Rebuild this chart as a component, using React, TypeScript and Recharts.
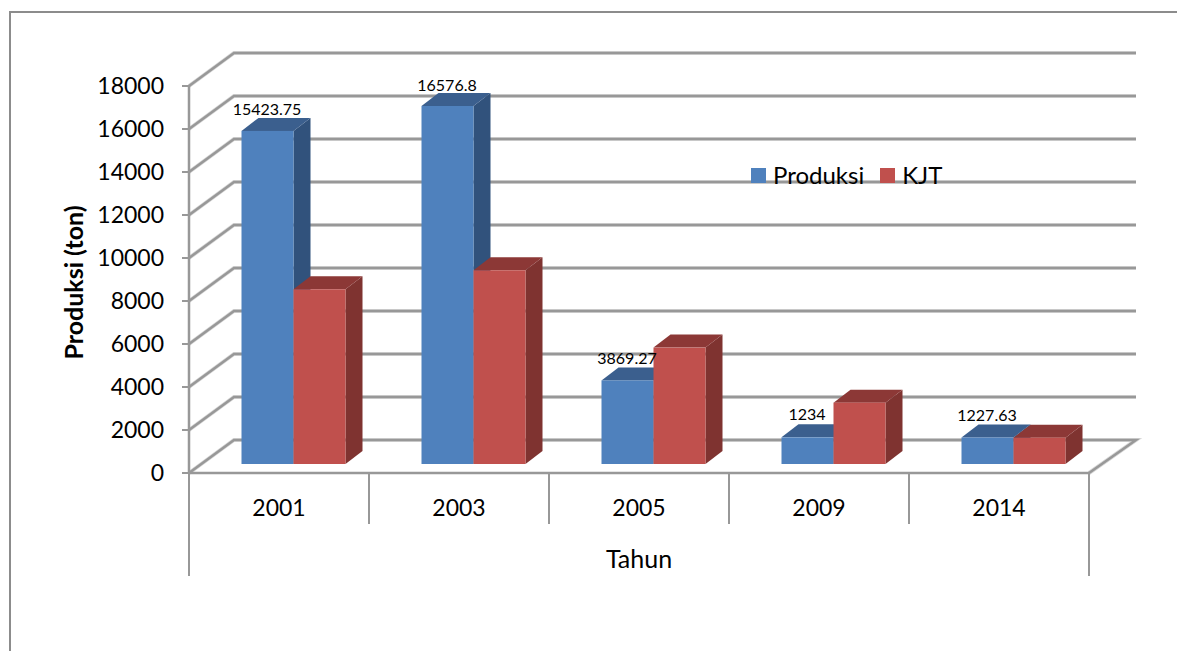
import { Bar, BarChart, CartesianGrid, LabelList, Legend, XAxis, YAxis } from "recharts";

const years = ["2001", "2003", "2005", "2009", "2014"];
const produksi = [15423.75, 16576.8, 3869.27, 1234, 1227.63];
const kjt = [8090, 8970, 5390, 2840, 1220];
const yTicks = [0, 2000, 4000, 6000, 8000, 10000, 12000, 14000, 16000, 18000];

const data = years.map((year, i) => ({ year, produksi: produksi[i], kjt: kjt[i] }));

const FONT = "Lato, sans-serif";
const LINE = "#989898";

// Fake 3D: the back wall sits up and to the right of the axis plane,
// and the bars stand on the floor between the two.
const WALL_DX = 45;
const WALL_DY = -33;
const WALL_RIGHT = 1136;
const FLOOR_Y = 473;
const BAR_DX = 14.5;
const BAR_DY = -9;
const BAR_STRETCH = 1.0045;
const DEPTH_X = 17;
const DEPTH_Y = -13;
const CATEGORY_W = 180;

function WallLine({ x1, y1, x2 }: any) {
  const isFloor = Math.abs(y1 - FLOOR_Y) < 1;
  const points = [
    [x1, y1],
    [x1 + WALL_DX, y1 + WALL_DY],
    [WALL_RIGHT, y1 + WALL_DY],
    ...(isFloor ? [[x2, y1]] : []),
  ]
    .map((p) => p.join(","))
    .join(" ");
  return (
    <g>
      <polyline points={points} fill="none" stroke="#d8d8d8" strokeWidth={4} />
      <polyline points={points} fill="none" stroke={LINE} strokeWidth={2.5} />
    </g>
  );
}

function Box3D({ x, y, width, height, fill, topFill, sideFill }: any) {
  const h = height * BAR_STRETCH;
  const left = x + BAR_DX;
  const right = left + width;
  const bottom = y + height + BAR_DY;
  const top = bottom - h;
  return (
    <g>
      <polygon
        points={`${right},${top} ${right + DEPTH_X},${top + DEPTH_Y} ${right + DEPTH_X},${bottom + DEPTH_Y} ${right},${bottom}`}
        fill={sideFill}
      />
      <polygon
        points={`${left},${top} ${left + DEPTH_X},${top + DEPTH_Y} ${right + DEPTH_X},${top + DEPTH_Y} ${right},${top}`}
        fill={topFill}
      />
      <rect x={left} y={top} width={width} height={h} fill={fill} />
    </g>
  );
}

function ValueLabel({ x, y, width, value }: any) {
  return (
    <text x={x + 14 + width / 2} y={y + BAR_DY - 17} textAnchor="middle" fontSize={16} fontFamily={FONT} fill="#000">
      {String(value)}
    </text>
  );
}

function YearTick({ x, y, payload, index }: any) {
  const top = y - 8;
  const left = x - CATEGORY_W / 2;
  const right = x + CATEGORY_W / 2;
  return (
    <g>
      <line x1={left} x2={left} y1={top} y2={index === 0 ? 576 : 524} stroke={LINE} strokeWidth={2} />
      {index === years.length - 1 && <line x1={right} x2={right} y1={top} y2={576} stroke={LINE} strokeWidth={2} />}
      <text x={x} y={516} textAnchor="middle" fontSize={23} fontFamily={FONT} fill="#000">
        {payload.value}
      </text>
    </g>
  );
}

function LegendRow({ payload }: any) {
  return (
    <div style={{ display: "flex", alignItems: "center", fontFamily: FONT, fontSize: 24, lineHeight: "30px", color: "#000" }}>
      {payload.map((entry: any) => (
        <div key={entry.value} style={{ display: "flex", alignItems: "center", marginRight: 16 }}>
          <span style={{ width: 15, height: 15, background: entry.color, marginRight: 7 }} />
          {entry.value}
        </div>
      ))}
    </div>
  );
}

export default function App() {
  return (
    <div style={{ position: "absolute", left: 0, top: 0, width: 1177, height: 651, background: "#fff", overflow: "hidden" }}>
      <div
        style={{
          position: "absolute",
          left: 9,
          top: 11,
          width: 1200,
          height: 700,
          borderLeft: "2px solid #8c8c8c",
          borderTop: "2px solid #8c8c8c",
        }}
      />
      <BarChart
        width={1177}
        height={651}
        data={data}
        barSize={52}
        barGap={0}
        margin={{ top: 86, right: 88, bottom: 78, left: 40 }}
        style={{ position: "absolute", left: 0, top: 0 }}
      >
        <CartesianGrid horizontal={(props: any) => <WallLine key={props.key} {...props} />} vertical={false} />
        <XAxis
          dataKey="year"
          height={100}
          axisLine={{ stroke: LINE, strokeWidth: 2.5 }}
          tickLine={false}
          tick={<YearTick />}
          interval={0}
          label={{ value: "Tahun", position: "insideTop", offset: 77, fontSize: 25, fontFamily: FONT, fill: "#000" }}
        />
        <YAxis
          width={149}
          domain={[0, 18000]}
          ticks={yTicks}
          interval={0}
          axisLine={{ stroke: LINE, strokeWidth: 2.5 }}
          tickLine={{ stroke: LINE, strokeWidth: 2 }}
          tickSize={7}
          tickMargin={18}
          tick={{ fontSize: 23, fontFamily: FONT, fill: "#000" }}
          label={{
            value: "Produksi (ton)",
            angle: -90,
            position: "insideLeft",
            offset: -6,
            dx: 40,
            dy: 3,
            style: { textAnchor: "middle", fontSize: 25, fontWeight: 700, fontFamily: FONT, fill: "#000" },
          }}
        />
        <Legend
          content={<LegendRow />}
          itemSorter={null}
          layout="horizontal"
          verticalAlign="middle"
          align="center"
          wrapperStyle={{ position: "absolute", left: 751, top: 160, width: 260, bottom: "auto" }}
        />
        <Bar
          dataKey="produksi"
          name="Produksi"
          fill="#4f81bd"
          isAnimationActive={false}
          shape={<Box3D topFill="#3b5f8e" sideFill="#31527c" />}
        >
          <LabelList dataKey="produksi" content={<ValueLabel />} />
        </Bar>
        <Bar
          dataKey="kjt"
          name="KJT"
          fill="#c0504d"
          isAnimationActive={false}
          shape={<Box3D topFill="#8c3836" sideFill="#7f3330" />}
        />
      </BarChart>
    </div>
  );
}
